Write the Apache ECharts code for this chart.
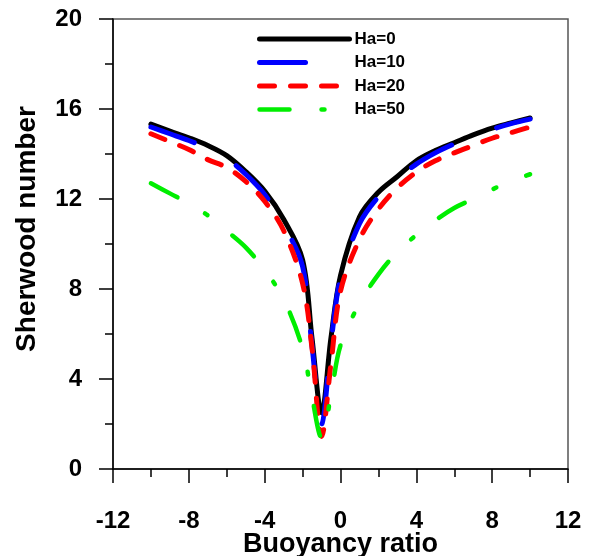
<!DOCTYPE html>
<html>
<head>
<meta charset="utf-8">
<style>
  html, body { margin: 0; padding: 0; background: #fff; }
  #chart { width: 593px; height: 556px; }
</style>
<script src="https://cdn.jsdelivr.net/npm/echarts@6/dist/echarts.min.js"></script>
</head>
<body>
<div id="chart"></div>
<script>
// Buoyancy ratio sample points
var buoyancy = [-10, -9, -8, -7, -6, -5, -4, -3, -2, -1.5, -1, -0.5, 0, 1, 2, 3, 4, 5, 6, 7, 8, 9, 10];

// Sherwood number for each Hartmann number
var sh_ha0  = [15.33, 15.02, 14.72, 14.38, 13.93, 13.22, 12.35, 11.1, 9.3, 5.8, 2.5, 5.85, 8.6, 11.2, 12.3, 13.0, 13.7, 14.15, 14.5, 14.85, 15.15, 15.38, 15.6];
var sh_ha10 = [15.2, 14.9, 14.6, 14.25, 13.8, 13.1, 12.2, 10.85, 9.0, 5.45, 2.0, 5.6, 8.5, 10.9, 12.1, 12.9, 13.55, 14.05, 14.45, 14.8, 15.1, 15.35, 15.55];
var sh_ha20 = [14.9, 14.55, 14.2, 13.75, 13.4, 12.78, 11.9, 10.6, 8.25, 5.35, 1.45, 4.7, 7.9, 10.2, 11.55, 12.5, 13.2, 13.7, 14.05, 14.38, 14.7, 14.95, 15.2];
var sh_ha50 = [12.7, 12.25, 11.8, 11.27, 10.58, 9.85, 8.85, 7.55, 5.35, 3.2, 1.4, 3.3, 5.5, 7.35, 8.65, 9.65, 10.4, 11.05, 11.6, 12.0, 12.42, 12.8, 13.1];

var seriesNames = ['Ha=0', 'Ha=10', 'Ha=20', 'Ha=50'];

// Axis ranges and ticks
var xMin = -12, xMax = 12, xStep = 4;
var yMin = 0, yMax = 20, yStep = 4;

function pairs(ys) {
  return buoyancy.map(function (x, i) { return [x, ys[i]]; });
}

var FONT = '"Liberation Sans", Arial, sans-serif';

var lineDefs = [
  { name: seriesNames[0], data: sh_ha0,  color: '#000000', width: 5,   dash: 'solid' },
  { name: seriesNames[1], data: sh_ha10, color: '#0000ff', width: 5,   dash: [46, 48] },
  { name: seriesNames[2], data: sh_ha20, color: '#ff0000', width: 5,   dash: [15, 16] },
  { name: seriesNames[3], data: sh_ha50, color: '#00ee00', width: 4.5, dash: [30, 32, 3, 32] }
];

var chart = echarts.init(document.getElementById('chart'), null, { renderer: 'canvas' });

var axisCommon = {
  type: 'value',
  axisLine: { show: true, onZero: false, lineStyle: { color: '#000', width: 1.5 } },
  axisTick: { show: true, inside: false, length: 14, lineStyle: { color: '#000', width: 1.5 } },
  minorTick: { show: true, splitNumber: 2, length: 8, lineStyle: { color: '#000', width: 1.5 } },
  splitLine: { show: false },
  axisLabel: { color: '#000', fontFamily: FONT, fontWeight: 'bold', fontSize: 24 }
};

var option = {
  animation: false,
  backgroundColor: '#fff',
  grid: {
    left: 113, right: 25, top: 19, bottom: 87,
    containLabel: false,
    outerBoundsMode: 'none',
    show: true, borderColor: '#555', borderWidth: 1.5, backgroundColor: 'transparent'
  },
  xAxis: Object.assign({}, axisCommon, {
    min: xMin, max: xMax, interval: xStep,
    axisLabel: Object.assign({}, axisCommon.axisLabel, { margin: 40 }),
    name: 'Buoyancy ratio',
    nameLocation: 'middle',
    nameGap: 62,
    nameMoveOverlap: false,
    nameTextStyle: { color: '#000', fontFamily: FONT, fontWeight: 'bold', fontSize: 27 }
  }),
  yAxis: Object.assign({}, axisCommon, {
    min: yMin, max: yMax, interval: yStep,
    axisLabel: Object.assign({}, axisCommon.axisLabel, { margin: 31 })
  }),
  legend: {
    show: true,
    orient: 'vertical',
    left: 257, top: 29,
    padding: 0,
    itemWidth: 90, itemHeight: 12, itemGap: 3.5,
    textStyle: { color: '#000', fontFamily: FONT, fontWeight: 'bold', fontSize: 17, lineHeight: 20, padding: [0, 0, 0, 0] },
    data: lineDefs.map(function (d) {
      return {
        name: d.name,
        itemStyle: { opacity: 0 },
        lineStyle: { color: d.color, width: d.width, type: d.dash, cap: 'round' }
      };
    })
  },
  graphic: [{
    type: 'text',
    x: 27, y: 229,
    rotation: Math.PI / 2,
    style: {
      text: 'Sherwood number',
      fill: '#000',
      font: 'bold 28px ' + FONT,
      align: 'center',
      verticalAlign: 'middle'
    }
  }],
  series: lineDefs.map(function (d) {
    return {
      name: d.name,
      type: 'line',
      data: pairs(d.data),
      showSymbol: false,
      symbol: 'none',
      smooth: 0.35,
      lineStyle: { color: d.color, width: d.width, type: d.dash, cap: 'round', join: 'round' },
      itemStyle: { color: d.color }
    };
  })
};

chart.setOption(option);
</script>
</body>
</html>
